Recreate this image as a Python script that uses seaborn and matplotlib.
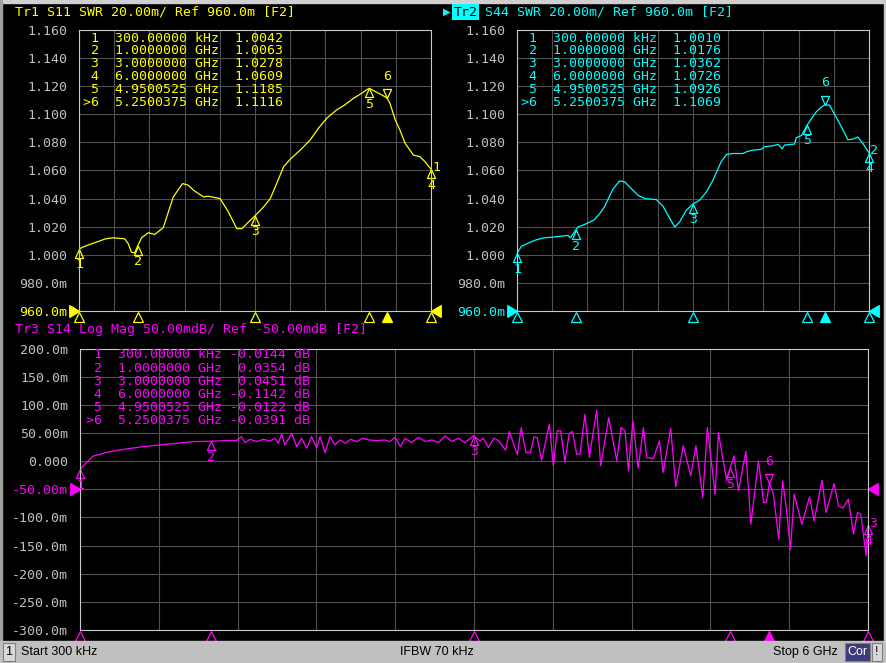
import matplotlib
matplotlib.use("Agg")
import matplotlib.pyplot as plt
from matplotlib.path import Path
from matplotlib.patches import Rectangle
import numpy as np
import seaborn as sns

W, H = 887, 663

# 扫频范围 (GHz)
f_start, f_stop = 0.0003, 6.0

# Tr1 S11 SWR 曲线 (从屏幕读取)
s11_f = [0.0003, 0.137, 0.296, 0.456, 0.58, 0.78, 0.84, 0.894, 0.95, 1.0,
         1.066, 1.18, 1.29, 1.436, 1.607, 1.766, 1.863, 1.95, 2.12, 2.205,
         2.405, 2.547, 2.69, 2.775, 2.86, 3.0, 3.145, 3.26, 3.345, 3.487,
         3.6, 3.77, 3.94, 4.08, 4.22, 4.39, 4.53, 4.68, 4.82, 4.9,
         4.95, 5.05, 5.16, 5.25, 5.3, 5.39, 5.47, 5.56, 5.7, 5.81,
         5.9, 6.0]
s11_v = [1.0042, 1.0067, 1.009, 1.0114, 1.0121, 1.0114, 1.0079, 1.0019, 1.0014, 1.0063,
         1.0121, 1.0157, 1.0145, 1.0193, 1.0412, 1.0507, 1.0495, 1.046, 1.0412, 1.0417,
         1.040, 1.0305, 1.0186, 1.0186, 1.0221, 1.0278, 1.034, 1.040, 1.0483, 1.0626,
         1.068, 1.0745, 1.0817, 1.090, 1.0971, 1.1031, 1.1067, 1.1114, 1.115, 1.1174,
         1.1185, 1.1162, 1.1138, 1.1116, 1.1079, 1.096, 1.0888, 1.0793, 1.071, 1.0698,
         1.0662, 1.0609]

# Tr2 S44 SWR 曲线
s44_f = [0.0003, 0.074, 0.19, 0.33, 0.47, 0.61, 0.87, 0.91, 1.0, 1.04,
         1.18, 1.32, 1.41, 1.49, 1.64, 1.75, 1.835, 1.95, 2.06, 2.18,
         2.375, 2.49, 2.59, 2.69, 2.77, 2.886, 3.0, 3.11, 3.23, 3.34,
         3.48, 3.57, 3.68, 3.85, 3.91, 4.02, 4.16, 4.22, 4.36, 4.45,
         4.52, 4.56, 4.73, 4.76, 4.85, 4.95, 5.02, 5.10, 5.19, 5.25,
         5.33, 5.39, 5.47, 5.56, 5.64, 5.73, 5.81, 5.9, 6.0]
s44_v = [1.0010, 1.006, 1.0083, 1.0107, 1.0121, 1.0126, 1.0138, 1.0121, 1.0176, 1.0198,
         1.0221, 1.025, 1.0293, 1.034, 1.0471, 1.0526, 1.0519, 1.0471, 1.0424, 1.040,
         1.0393, 1.0345, 1.0269, 1.0198, 1.0233, 1.0317, 1.0362, 1.0388, 1.0448, 1.0531,
         1.0662, 1.0714, 1.0721, 1.0721, 1.0733, 1.0745, 1.075, 1.0769, 1.0776, 1.0786,
         1.0755, 1.0781, 1.0788, 1.0833, 1.085, 1.0926, 1.0969, 1.1017, 1.1052, 1.1069,
         1.1064, 1.1017, 1.0957, 1.0886, 1.0819, 1.0824, 1.0838, 1.079, 1.0726]

# Tr3 S14 Log Mag 曲线 (mdB)
s14_f = [0.0003, 0.10, 0.23, 0.355, 0.48, 0.61, 0.736, 0.86, 0.99, 1.117,
         1.19, 1.23, 1.256, 1.295, 1.345, 1.396, 1.447, 1.485, 1.51, 1.536,
         1.56, 1.612, 1.65, 1.688, 1.726, 1.764, 1.802, 1.828, 1.866, 1.904,
         1.942, 1.98, 2.02, 2.06, 2.11, 2.15, 2.2, 2.26, 2.32, 2.36,
         2.4, 2.44, 2.475, 2.525, 2.576, 2.63, 2.68, 2.73, 2.78, 2.83,
         2.88, 2.93, 2.997, 3.046, 3.07, 3.11, 3.15, 3.19, 3.24, 3.27,
         3.33, 3.36, 3.395, 3.43, 3.457, 3.48, 3.515, 3.574, 3.604, 3.634,
         3.66, 3.692, 3.725, 3.75, 3.782, 3.807, 3.845, 3.878, 3.934, 3.965,
         4.026, 4.087, 4.12, 4.15, 4.176, 4.21, 4.25, 4.29, 4.315, 4.366,
         4.412, 4.44, 4.498, 4.536, 4.594, 4.65, 4.69, 4.742, 4.777, 4.836,
         4.861, 4.924, 4.95, 4.98, 5.014, 5.07, 5.108, 5.166, 5.205, 5.225,
         5.25, 5.28, 5.32, 5.35, 5.376, 5.41, 5.438, 5.496, 5.555, 5.59,
         5.65, 5.68, 5.742, 5.775, 5.808, 5.85, 5.89, 5.92, 5.945, 5.986, 6.0]
s14_v = [-14.4, 9, 17, 21.7, 25.8, 28.8, 31.7, 34.7, 35.4, 36.5,
         36.5, 43.6, 33, 38.8, 34.7, 38.8, 35.9, 40.6, 31.8, 48.3,
         28.8, 49.5, 25.8, 40.6, 22.9, 43.6, 22.9, 43.6, 15.2, 43.6,
         28.8, 37.7, 31.8, 38.8, 35, 40.6, 37.7, 36.5, 37.7, 35,
         42.4, 25.8, 40.6, 33, 42.4, 35, 37.7, 33, 44.8, 35,
         40.6, 33, 45.1, 36, 40.9, 24.3, 40.9, 36, 19.5, 52.7,
         11.3, 59.8, 15.4, 15.4, 43.2, 42, 1.8, 65.8, -8.3, 53.9,
         53.9, -1.2, 49.2, 52.7, 12.4, 12.4, 83.5, 6.5, 90.6, -8.3,
         77.6, 0.6, 59.8, 53.9, -17.2, 71.7, -12.4, 59.8, 6.5, 4.7,
         36.1, -20.1, 58.7, -45.6, 27.3, -26, 27.3, -64.6, 59.8, -58.7,
         51, -35, -12.2, 9.5, -52.7, 17.2, -112, 0.6, -73.5, -73.5,
         -39.1, -58.7, -138.6, -35, -79.4, -156.4, -58.7, -112, -63.4, -106,
         -33.8, -91.2, -39.7, -79.4, -83.5, -67.5, -129.7, -91.2, -94.2, -168, -114.2]

# 标记点
mk_names = ["1", "2", "3", "4", "5", "6"]
mk_f = [0.0003, 1.0, 3.0, 6.0, 4.9500525, 5.2500375]
mk_freq_txt = ["300.00000", "1.0000000", "3.0000000", "6.0000000", "4.9500525", "5.2500375"]
mk_unit = ["kHz", "GHz", "GHz", "GHz", "GHz", "GHz"]
s11_mk = [1.0042, 1.0063, 1.0278, 1.0609, 1.1185, 1.1116]
s44_mk = [1.0010, 1.0176, 1.0362, 1.0726, 1.0926, 1.1069]
s14_mk = [-0.0144, 0.0354, 0.0451, -0.1142, -0.0122, -0.0391]  # dB
active_mk = 5

swr_ticks = [0.96, 0.98, 1.00, 1.02, 1.04, 1.06, 1.08, 1.10, 1.12, 1.14, 1.16]
swr_labels = ["960.0m", "980.0m", "1.000", "1.020", "1.040", "1.060",
              "1.080", "1.100", "1.120", "1.140", "1.160"]
mag_ticks = [-300, -250, -200, -150, -100, -50, 0, 50, 100, 150, 200]
mag_labels = ["-300.0m", "-250.0m", "-200.0m", "-150.0m", "-100.0m", "-50.00m",
              "0.000", "50.00m", "100.0m", "150.0m", "200.0m"]

YEL, CYA, MAG = "#ffff00", "#00ffff", "#ff00ff"
GRAY_TXT = "#c0c0c0"

sns.set_style("dark", {"axes.facecolor": "black", "figure.facecolor": "black"})
plt.rcParams['font.family'] = ['DejaVu Sans Mono', 'DejaVu Sans']
plt.rcParams['font.size'] = 9.5

fig = plt.figure(figsize=(W / 100, H / 100), dpi=100, facecolor="black")


def fx(x):
    return x / W


def fy(y):
    return 1 - y / H


def add_panel(l, t, r, b):
    return fig.add_axes([l / W, 1 - b / H, (r - l) / W, (b - t) / H])


tri_up = Path([(0, 0), (-0.45, -1), (0.45, -1), (0, 0)],
              [Path.MOVETO, Path.LINETO, Path.LINETO, Path.CLOSEPOLY])
tri_dn = Path([(0, 0), (-0.45, 1), (0.45, 1), (0, 0)],
              [Path.MOVETO, Path.LINETO, Path.LINETO, Path.CLOSEPOLY])
ref_r = Path([(0, 0), (-1, 0.6), (-1, -0.6), (0, 0)],
             [Path.MOVETO, Path.LINETO, Path.LINETO, Path.CLOSEPOLY])
ref_l = Path([(0, 0), (1, 0.6), (1, -0.6), (0, 0)],
             [Path.MOVETO, Path.LINETO, Path.LINETO, Path.CLOSEPOLY])


def style_axis(ax, ylim, yticks, ylabels, ref_idx, color):
    ax.set_facecolor("black")
    ax.set_xlim(f_start, f_stop)
    ax.set_ylim(*ylim)
    ax.set_xticks(np.linspace(f_start, f_stop, 11))
    ax.set_yticks(yticks)
    ax.set_yticklabels(ylabels)
    ax.tick_params(length=0, labelbottom=False, pad=8.5, labelsize=9.5, labelcolor=GRAY_TXT)
    ax.get_yticklabels()[ref_idx].set_color(color)
    ax.grid(True, color="#505050", lw=0.8)
    ax.set_axisbelow(True)
    for sp in ax.spines.values():
        sp.set_color("#c8c8c8")
        sp.set_linewidth(0.8)
    ax.set_xlabel("")
    ax.set_ylabel("")
    ref = yticks[ref_idx]
    tr = ax.get_yaxis_transform()
    ax.plot([0], [ref], transform=tr, marker=ref_r, ms=14, color=color, ls="none", clip_on=False)
    ax.plot([1], [ref], transform=tr, marker=ref_l, ms=14, color=color, ls="none", clip_on=False)


def draw_markers(ax, vals, color, trace_no, fx_end, fy_end):
    for i, (f, v) in enumerate(zip(mk_f, vals)):
        active = i == active_mk
        ax.plot([f], [v], ls="none", marker=tri_dn if active else tri_up, ms=13,
                mfc="none", mec=color, mew=0.9, clip_on=False)
        ax.annotate(mk_names[i], (f, v), xytext=(0, 22 if active else -16),
                    textcoords="offset pixels", ha="center", va="center",
                    color=color, fontsize=9.5, annotation_clip=False)
        ax.plot([f], [-0.022], transform=ax.get_xaxis_transform(), ls="none", marker="^",
                ms=7, mfc=color if active else "none", mec=color, mew=0.9, clip_on=False)
    ax.annotate(trace_no, (fx_end, fy_end), xytext=(1, 2), textcoords="offset pixels",
                ha="left", va="center", color=color, fontsize=9.5, annotation_clip=False)


# ---- 面板 1: S11 ----
ax1 = add_panel(79, 30, 431, 311)
sns.lineplot(x=s11_f, y=s11_v, ax=ax1, color=YEL, lw=0.9)
style_axis(ax1, (0.96, 1.16), swr_ticks, swr_labels, 0, YEL)
draw_markers(ax1, s11_mk, YEL, "1", s11_f[-1], s11_v[-1])

# ---- 面板 2: S44 ----
ax2 = add_panel(517, 30, 869, 311)
sns.lineplot(x=s44_f, y=s44_v, ax=ax2, color=CYA, lw=0.9)
style_axis(ax2, (0.96, 1.16), swr_ticks, swr_labels, 0, CYA)
draw_markers(ax2, s44_mk, CYA, "2", s44_f[-1], s44_v[-1])

# ---- 面板 3: S14 ----
ax3 = add_panel(80, 348.6, 868, 630)
sns.lineplot(x=s14_f, y=s14_v, ax=ax3, color=MAG, lw=0.9)
style_axis(ax3, (-300, 200), mag_ticks, mag_labels, 5, MAG)
draw_markers(ax3, [v * 1000 for v in s14_mk], MAG, "3", s14_f[-1], s14_v[-1])

# ---- 标记表 ----
for i in range(6):
    num = (">" if i == active_mk else "") + mk_names[i]
    row1 = f"{num:>2}  {mk_freq_txt[i]} {mk_unit[i]}  {s11_mk[i]:.4f}"
    row2 = f"{num:>2}  {mk_freq_txt[i]} {mk_unit[i]}  {s44_mk[i]:.4f}"
    row3 = f"{num:>2}  {mk_freq_txt[i]} {mk_unit[i]} {s14_mk[i]:>7.4f} dB"
    fig.text(fx(83), fy(38 + 12.9 * i), row1, color=YEL, ha="left", va="center", fontsize=9.5)
    fig.text(fx(521.5), fy(38 + 12.9 * i), row2, color=CYA, ha="left", va="center", fontsize=9.5)
    fig.text(fx(86), fy(355 + 13.2 * i), row3, color=MAG, ha="left", va="center", fontsize=9.5)

# ---- 标题 ----
fig.text(fx(15), fy(12), "Tr1 S11 SWR 20.00m/ Ref 960.0m [F2]", color=YEL,
         ha="left", va="center", fontsize=9.5)
fig.text(fx(443), fy(12), "\u25B6", color=CYA, ha="left", va="center", fontsize=7,
         family="DejaVu Sans")
fig.text(fx(453.5), fy(12), "Tr2", color="black", ha="left", va="center", fontsize=9.5,
         bbox=dict(facecolor=CYA, edgecolor="none", pad=1.2))
fig.text(fx(485), fy(12), "S44 SWR 20.00m/ Ref 960.0m [F2]", color=CYA,
         ha="left", va="center", fontsize=9.5)
fig.text(fx(15), fy(330), "Tr3 S14 Log Mag 50.00mdB/ Ref -50.00mdB [F2]", color=MAG,
         ha="left", va="center", fontsize=9.5)

# ---- 边框 ----
fig.patches.append(Rectangle((0, fy(3)), 1, 3 / H, transform=fig.transFigure,
                             color="#d0d0d0", zorder=0))
fig.patches.append(Rectangle((0, 0), 2 / W, 1, transform=fig.transFigure,
                             color="#a0a0a0", zorder=0))
fig.patches.append(Rectangle((fx(884), 0), 3 / W, 1, transform=fig.transFigure,
                             color="#c8c8c8", zorder=0))

# ---- 状态栏 ----
fig.patches.append(Rectangle((0, 0), 1, 22 / H, transform=fig.transFigure,
                             color="#c0c0c0", zorder=1))
fig.patches.append(Rectangle((fx(3), fy(661)), 12 / W, 18 / H, transform=fig.transFigure,
                             facecolor="#d8d8d8", edgecolor="#808080", lw=0.8, zorder=2))
fig.text(fx(9), fy(652), "1", color="black", ha="center", va="center", fontsize=9,
         family="Liberation Sans", zorder=3)
fig.text(fx(21), fy(652), "Start 300 kHz", color="black", ha="left", va="center",
         fontsize=9, family="Liberation Sans", zorder=3)
fig.text(fx(437), fy(652), "IFBW 70 kHz", color="black", ha="center", va="center",
         fontsize=9, family="Liberation Sans", zorder=3)
fig.text(fx(838), fy(652), "Stop 6 GHz", color="black", ha="right", va="center",
         fontsize=9, family="Liberation Sans", zorder=3)
fig.patches.append(Rectangle((fx(845), fy(661)), 25 / W, 18 / H, transform=fig.transFigure,
                             facecolor="#3c3c7c", edgecolor="#808080", lw=0.8, zorder=2))
fig.text(fx(857.5), fy(652), "Cor", color="white", ha="center", va="center",
         fontsize=9, family="Liberation Sans", zorder=3)
fig.patches.append(Rectangle((fx(872), fy(661)), 10 / W, 18 / H, transform=fig.transFigure,
                             facecolor="#d8d8d8", edgecolor="#808080", lw=0.8, zorder=2))
fig.text(fx(877), fy(652), "!", color="black", ha="center", va="center",
         fontsize=9, family="Liberation Sans", zorder=3)

fig.savefig("out.png", dpi=100, facecolor="black")
